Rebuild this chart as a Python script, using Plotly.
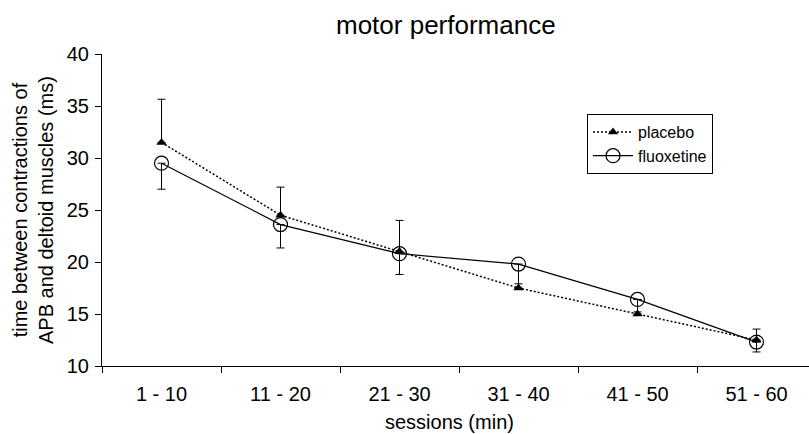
import plotly.graph_objects as go

sessions = ["1 - 10", "11 - 20", "21 - 30", "31 - 40", "41 - 50", "51 - 60"]
placebo = [31.5, 24.5, 21.0, 17.5, 15.0, 12.5]
placebo_err_up = [4.15, 2.7, 3.0, 0.4, 1.4, 1.05]
fluoxetine = [29.5, 23.6, 20.8, 19.8, 16.4, 12.3]
fluoxetine_err_down = [2.5, 2.25, 2.0, 2.4, 1.2, 0.95]
y_ticks = [10, 15, 20, 25, 30, 35, 40]

FONT = "Arial, Liberation Sans, sans-serif"
W, H = 809, 434
ML, MR, MT, MB = 102, 0, 54, 68
PW = W - ML - MR
PH = H - MT - MB

def px_x(p):
    return (p - ML) / PW

def px_y(p):
    return (H - MB - p) / PH

fig = go.Figure()
fig.add_trace(go.Scatter(
    x=sessions, y=placebo, name="placebo", mode="lines+markers",
    line=dict(color="black", width=1.5, dash="2px,2px"),
    marker=dict(symbol="triangle-up", size=9, color="black"),
    error_y=dict(type="data", symmetric=False, array=placebo_err_up,
                 arrayminus=[0] * len(placebo), color="black",
                 thickness=1, width=4),
))
fig.add_trace(go.Scatter(
    x=sessions, y=fluoxetine, name="fluoxetine", mode="lines+markers",
    line=dict(color="black", width=1.2),
    marker=dict(symbol="circle-open", size=14, color="black",
                line=dict(width=1.2, color="black")),
    error_y=dict(type="data", symmetric=False, array=[0] * len(fluoxetine),
                 arrayminus=fluoxetine_err_down, color="black",
                 thickness=1, width=4),
))

fig.update_layout(
    width=W, height=H,
    margin=dict(l=ML, r=MR, t=MT, b=MB),
    paper_bgcolor="white", plot_bgcolor="white",
    font=dict(family=FONT, color="black", size=20),
    showlegend=True,
    legend=dict(x=px_x(587), y=px_y(114), xanchor="left", yanchor="top",
                bgcolor="white", bordercolor="black", borderwidth=1,
                font=dict(size=16, family=FONT), tracegroupgap=0,
                itemwidth=40),
    xaxis=dict(type="category", range=[-0.5, -0.5 + PW / 119.0],
               showline=True, linecolor="black", linewidth=1,
               ticks="outside", ticklen=6, tickcolor="black",
               tickson="boundaries", showgrid=False, zeroline=False,
               ticklabelstandoff=10,
               tickfont=dict(size=20, family=FONT)),
    yaxis=dict(range=[10, 40], tickvals=y_ticks,
               showline=True, linecolor="black", linewidth=1,
               ticks="outside", ticklen=6, tickcolor="black",
               showgrid=False, zeroline=False,
               ticklabelstandoff=2,
               tickfont=dict(size=20, family=FONT)),
    annotations=[
        dict(text="motor performance", xref="paper", yref="paper",
             x=px_x(445.5), y=px_y(25), xanchor="center", yanchor="middle",
             showarrow=False, font=dict(size=26, family=FONT)),
        dict(text="sessions (min)", xref="paper", yref="paper",
             x=px_x(449), y=px_y(422), xanchor="center", yanchor="middle",
             showarrow=False, font=dict(size=20, family=FONT)),
        dict(text="time between contractions of<br>APB and deltoid muscles (ms)",
             xref="paper", yref="paper", textangle=-90,
             x=px_x(33), y=px_y(210), xanchor="center", yanchor="middle",
             showarrow=False, font=dict(size=20, family=FONT)),
    ],
)

fig.write_html("out.html",
               config={"displayModeBar": False},
               post_script="document.body.style.margin='0';document.body.style.overflow='hidden';")
